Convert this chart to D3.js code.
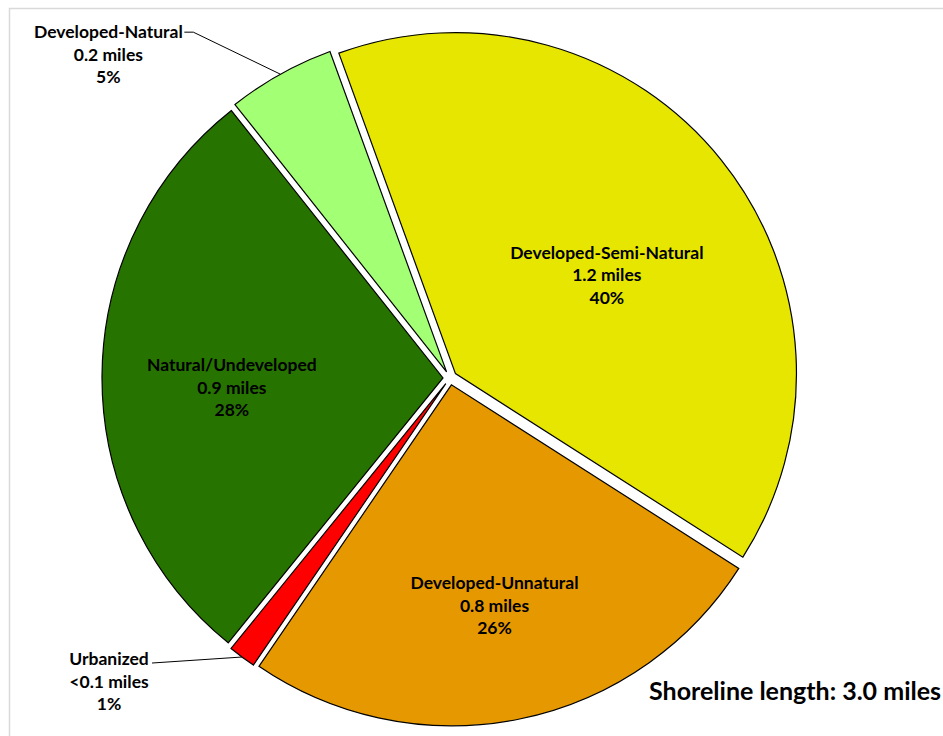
<!DOCTYPE html>
<html><head><meta charset="utf-8">
<script src="https://cdn.jsdelivr.net/npm/d3@7"></script>
<style>body{margin:0;background:#fff}svg{display:block}text{font-family:Lato,"Open Sans",sans-serif;font-weight:bold;fill:#000}</style>
</head><body><div id="chart"></div>
<script>
// ---- data ----
const categories = ["Developed-Semi-Natural","Developed-Unnatural","Urbanized","Natural/Undeveloped","Developed-Natural"];
const shares = [39.6, 25.5, 1.3, 28.5, 5.1];          // share of shoreline (%)
const milesLabels = ["1.2 miles","0.8 miles","<0.1 miles","0.9 miles","0.2 miles"];
const percentLabels = ["40%","26%","1%","28%","5%"];
const colors = ["#E6E600","#E69800","#FF0000","#267300","#A3FF73"];
const totalLabel = "Shoreline length: 3.0 miles";

// ---- layout ----
const W = 943, H = 736;
const cx = 450, cy = 378, R = 341, explode = 7;
const startDeg = -20;
// inside labels: [radius fraction, angle shift deg]; outside labels: leader end / text anchor offsets from arc point
const labelMode = ["in","in","out","in","out"];
const inPlace = {0:[0.53,5.6],1:[0.66,0.5],3:[0.62,-3.0]};
const outPlace = {2:{dx:-90,dy:6,elbow:null,tx:-133,ty:2}, 4:{dx:-96,dy:-42,elbow:[-87,-42],tx:-172,ty:-42}};

const svg = d3.select("#chart").append("svg").attr("width",W).attr("height",H);
svg.append("rect").attr("x",9.5).attr("y",8.5).attr("width",W+20).attr("height",H+20)
  .attr("fill","none").attr("stroke","#d9d9d9").attr("stroke-width",1.5);

const rad = d => d*Math.PI/180;
const pie = d3.pie().sort(null).value(d=>d)
  .startAngle(rad(startDeg)).endAngle(rad(startDeg)+2*Math.PI);
const arcs = pie(shares);
const arc = d3.arc().innerRadius(0).outerRadius(R);

const g = svg.append("g").attr("transform",`translate(${cx},${cy})`);
function off(a){ const m=(a.startAngle+a.endAngle)/2; return [Math.sin(m)*explode, -Math.cos(m)*explode]; }

g.selectAll("path.slice").data(arcs).join("path")
  .attr("class","slice")
  .attr("transform",d=>{const o=off(d);return `translate(${o[0]},${o[1]})`;})
  .attr("d",arc).attr("fill",(d,i)=>colors[i])
  .attr("stroke","#000").attr("stroke-width",1.2).attr("stroke-linejoin","miter");

const fs = 17.5, lh = 22.5;
arcs.forEach((d,i)=>{
  const o = off(d), m=(d.startAngle+d.endAngle)/2;
  const lines=[categories[i],milesLabels[i],percentLabels[i]];
  let x,y;
  if(labelMode[i]==="in"){
    const p=inPlace[i], a=m+rad(p[1]), r=R*p[0];
    x=o[0]+Math.sin(a)*r; y=o[1]-Math.cos(a)*r;
    const t=g.append("text").attr("text-anchor","middle").attr("font-size",fs);
    lines.forEach((s,k)=>t.append("tspan").attr("x",x).attr("y",y+(k-1)*lh).attr("dy","0.35em").text(s));
  } else {
    const p=outPlace[i];
    const ax=o[0]+Math.sin(m)*R, ay=o[1]-Math.cos(m)*R;
    const pts=[[ax,ay]];
    if(p.elbow) pts.push([ax+p.elbow[0],ay+p.elbow[1]]);
    pts.push([ax+p.dx,ay+p.dy]);
    g.append("path").attr("d",d3.line()(pts)).attr("fill","none").attr("stroke","#000").attr("stroke-width",1);
    const tx=ax+p.tx, ty=ay+p.ty;
    const t=g.append("text").attr("text-anchor","middle").attr("font-size",fs);
    lines.forEach((s,k)=>t.append("tspan").attr("x",tx).attr("y",ty+k*lh).attr("dy","0.35em").text(s));
  }
});

svg.append("text").attr("x",649).attr("y",691).attr("dy","0.35em").attr("font-size",25).text(totalLabel);
</script></body></html>
